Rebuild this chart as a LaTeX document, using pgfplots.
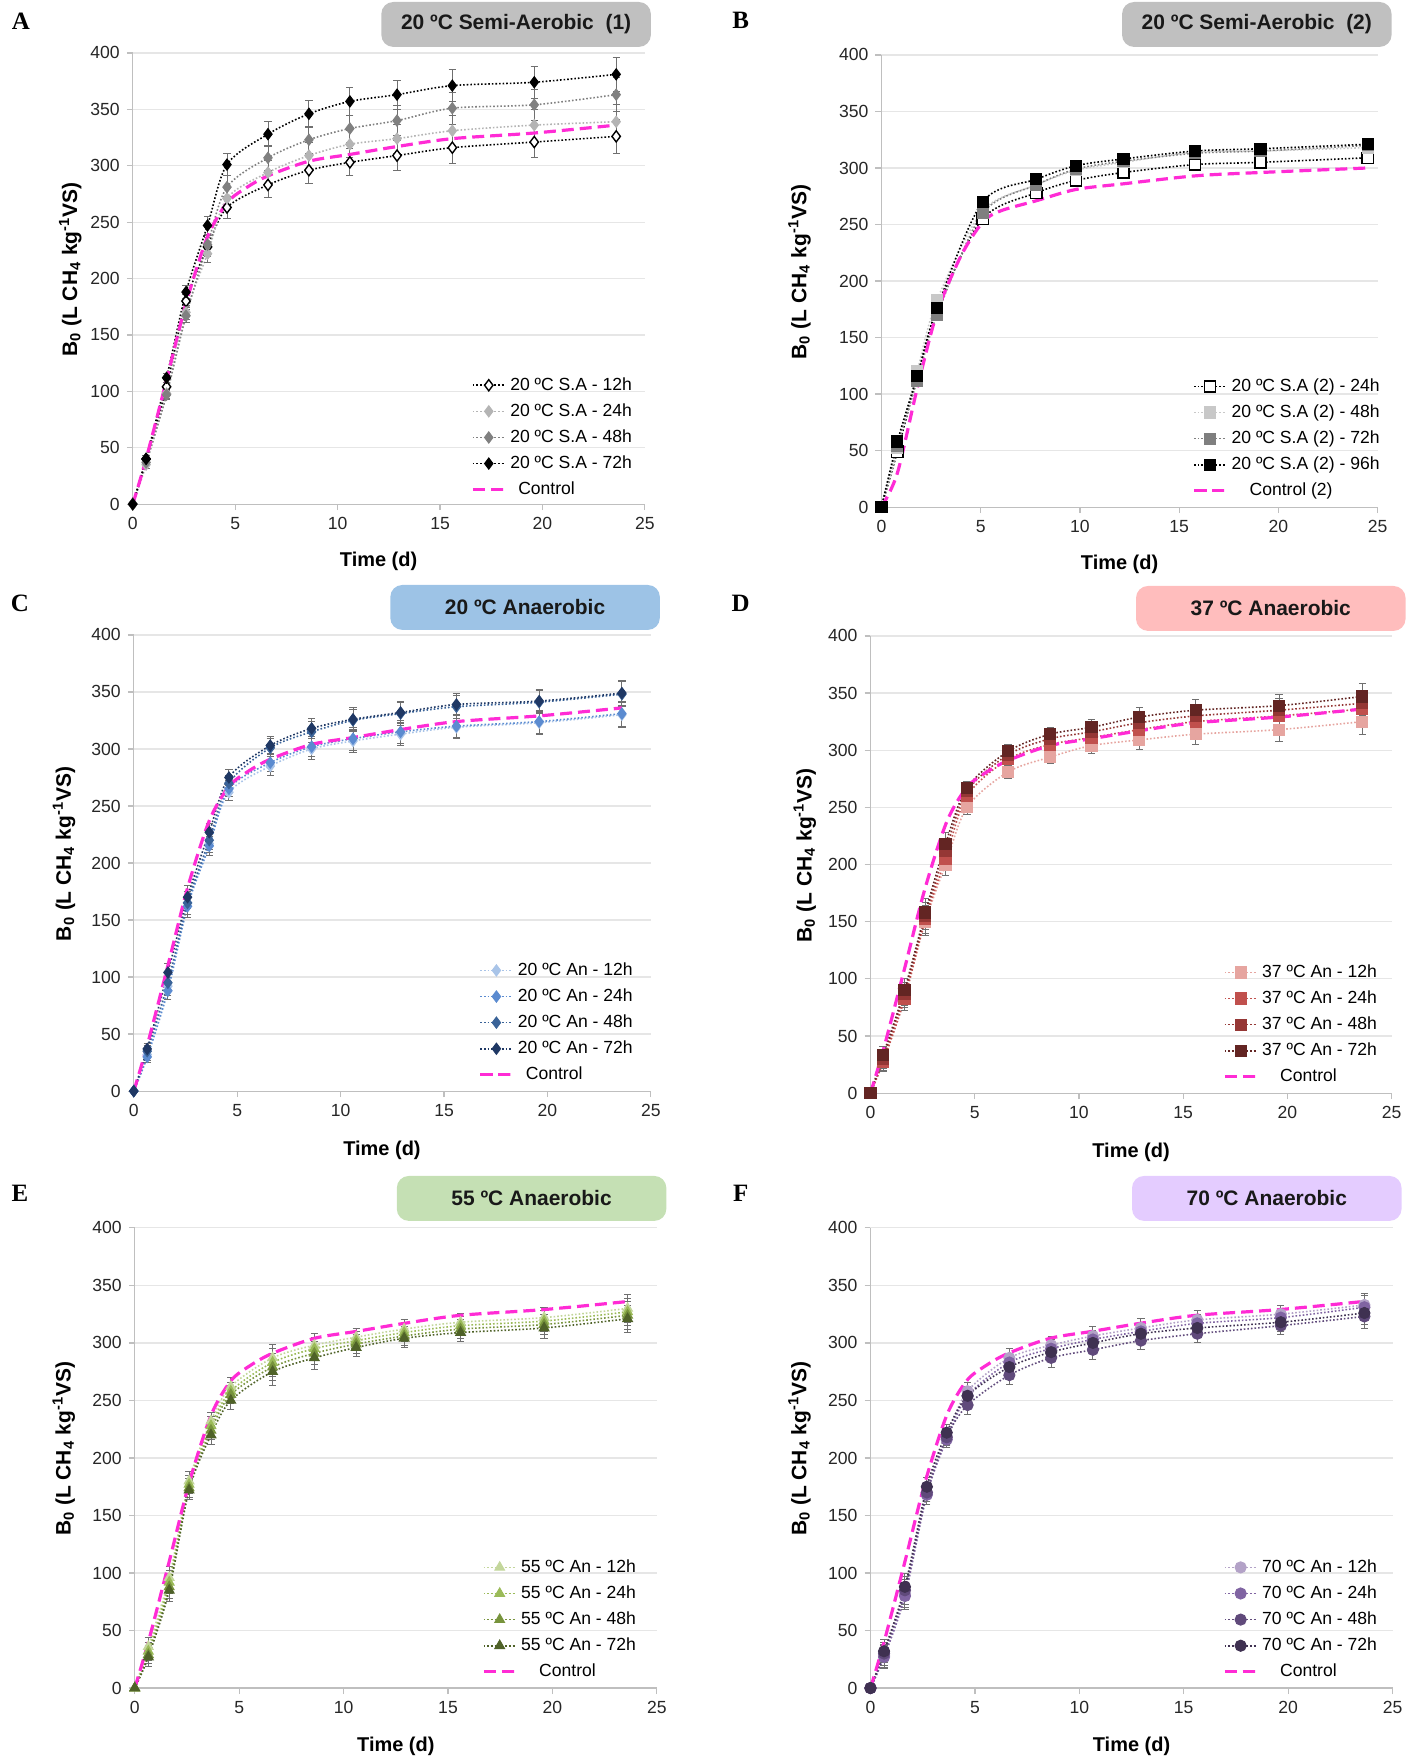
\documentclass[border=0pt]{standalone}
\usepackage{pgfplots}
\pgfplotsset{compat=1.18}
\usepackage{pgfplotstable}
\usepackage{fontspec}
\setmainfont{Liberation Sans}
\newfontfamily\serifb{Liberation Serif}

\definecolor{magc}{HTML}{FF2BD5}
\definecolor{axgray}{HTML}{BFBFBF}
\definecolor{grgray}{HTML}{E6E6E6}
\definecolor{errgray}{HTML}{6F6F6F}
% A
\definecolor{aL}{HTML}{B4B4B4}
\definecolor{aM}{HTML}{808080}
% B
\definecolor{bL}{HTML}{C8C8C8}
\definecolor{bM}{HTML}{7F7F7F}
% C
\definecolor{c1}{HTML}{A9C4E8}
\definecolor{c2}{HTML}{5B8BD0}
\definecolor{c3}{HTML}{3A6398}
\definecolor{c4}{HTML}{1F3864}
% D
\definecolor{d1}{HTML}{E6A5A0}
\definecolor{d2}{HTML}{C0504D}
\definecolor{d3}{HTML}{953735}
\definecolor{d4}{HTML}{632523}
% E
\definecolor{e1}{HTML}{C3D69B}
\definecolor{e2}{HTML}{9BBB59}
\definecolor{e3}{HTML}{77933C}
\definecolor{e4}{HTML}{4F6228}
% F
\definecolor{f1}{HTML}{B3A2C7}
\definecolor{f2}{HTML}{8064A2}
\definecolor{f3}{HTML}{604A7B}
\definecolor{f4}{HTML}{3F3151}
% boxes
\definecolor{boxA}{HTML}{C0C0C0}
\definecolor{boxC}{HTML}{9DC3E6}
\definecolor{boxD}{HTML}{FFBDBD}
\definecolor{boxE}{HTML}{C5E0B4}
\definecolor{boxF}{HTML}{E4CCFF}

\pgfplotstableread{
x     s1   s2   s3   s4   e
0     0    0    0    0    0
0.65  40   35   37   40   3
1.65  104  98   97   112  4
2.6   180  170  167  188  6
3.65  228  222  230  247  8
4.6   263  271  281  301  10
6.6   283  294  307  328  11
8.6   296  309  323  346  12
10.6  303  319  333  357  12
12.9  309  324  340  363  13
15.6  316  331  351  371  14
19.6  321  336  354  374  14
23.6  326  339  363  381  15
}\tabA

\pgfplotstableread{
x     s1   s2   s3   s4   e
0     0    0    0    0    0
0.8   49   52   54   58   2
1.8   115  120  112  116  3
2.8   175  183  170  176  3
5.1   255  262  260  270  3
7.8   278  285  285  290  3
9.8   289  298  299  302  3
12.2  296  305  306  308  3
15.8  303  314  313  315  4
19.1  305  315  315  317  4
24.5  309  318  320  321  5
}\tabB

\pgfplotstableread{
x     s1   s2   s3   s4   e
0     0    0    0    0    0
0.65  32   30   35   37   5
1.65  92   88   95   104  8
2.6   165  162  165  170  10
3.65  217  215  220  227  8
4.6   262  265  270  275  7
6.6   285  288  301  303  8
8.6   300  302  315  318  9
10.6  307  309  325  326  10
12.9  313  315  331  332  10
15.6  319  320  337  339  10
19.6  323  324  341  342  10
23.6  330  331  348  349  11
}\tabC

\pgfplotstableread{
x     s1   s2   s3   s4   e
0     0    0    0    0    0
0.6   28   27   30   33   8
1.63  85   82   87   90   10
2.63  150  152  155  158  12
3.6   200  205  212  218  10
4.63  250  260  264  267  6
6.6   281  292  296  299  6
8.62  294  305  310  314  6
10.6  304  311  316  320  7
12.9  309  318  324  329  8
15.6  314  325  330  335  9
19.6  318  330  335  339  10
23.6  325  336  341  347  11
}\tabD

\pgfplotstableread{
x     s1   s2   s3   s4   e
0     0    0    0    0    0
0.65  36   32   29   27   8
1.65  96   92   88   85   10
2.6   180  177  174  172  8
3.65  232  228  224  220  8
4.6   262  258  255  250  8
6.6   287  283  279  275  12
8.6   298  295  291  287  10
10.6  305  302  299  296  8
12.9  312  309  306  304  8
15.6  318  315  312  309  8
19.6  322  319  316  313  9
23.6  330  327  324  321  12
}\tabE

\pgfplotstableread{
x     s1   s2   s3   s4   e
0     0    0    0    0    0
0.65  28   27   30   32   10
1.65  82   80   85   88   12
2.7   170  168  170  175  8
3.65  219  216  218  222  7
4.65  258  254  246  254  8
6.65  287  283  272  279  8
8.65  298  295  287  292  8
10.65 306  303  294  300  8
12.95 313  310  302  308  8
15.65 320  317  308  313  8
19.65 325  322  315  318  8
23.65 333  331  323  326  10
}\tabF

\pgfplotstableread{
x     y
0     0
0.65  40
1.65  110
2.6   178
3.65  237
4.6   267
5.5   280
6.6   291
8.6   304
10.6  310
12.9  317
15.6  324
19.6  329
23.6  336
}\tabCtl

\pgfplotstableread{
x     y
0     0
0.8   30
1.8   105
2.8   172
4     222
5.1   252
6     262
7.8   271
9.8   281
12.2  286
15.8  293
19.1  296
24.5  300
}\tabCtlB

\pgfplotsset{
  panel/.style={
    scale only axis, clip=false,
    xmin=0, xmax=25, ymin=0, ymax=400,
    xtick={0,5,...,25}, ytick={0,50,...,400},
    axis lines*=left, axis line style={draw=axgray, line width=0.6pt, -},
    ymajorgrids, grid style={draw=grgray, line width=0.6pt},
    tick align=outside, major tick length=3pt,
    tick style={draw=axgray, line width=0.6pt},
    ticklabel style={font=\fontsize{8.8}{10}\selectfont, text=black!85},
    /pgf/number format/assume math mode=true,
    xlabel={\textbf{Time (d)}},
    xlabel style={font=\fontsize{10}{12}\selectfont, anchor=center},
    ylabel={\textbf{B\textsubscript{0} (L CH\textsubscript{4} kg\textsuperscript{-1}VS)}},
    ylabel style={font=\fontsize{10.5}{12}\selectfont, anchor=center, rotate=0},
    legend style={draw=none, fill=none, anchor=south east,
      font=\fontsize{8.8}{10.5}\selectfont, row sep=1.2pt},
    legend cell align=left,
    legend image code/.code={\draw[mark repeat=2,mark phase=2] plot coordinates {(0cm,0cm)(0.28cm,0cm)(0.56cm,0cm)};},
  },
  ser/.style 2 args={draw=#1, line width=0.8pt, densely dotted, smooth, mark=#2, mark size=2.8pt,
     mark options={solid, fill=#1, draw=#1, line width=0.5pt}},
  sero/.style={draw=black, line width=0.8pt, densely dotted, smooth, mark=#1, mark size=2.8pt,
     mark options={solid, fill=white, draw=black, line width=0.7pt}},
  eb/.style={error bars/.cd, y dir=both, y explicit,
     error bar style={solid, draw=errgray, line width=0.45pt},
     error mark options={rotate=90, draw=errgray, solid, mark size=1.8pt, line width=0.45pt}},
  ctl/.style={draw=magc, line width=1.6pt, dash pattern=on 6pt off 3pt, smooth, mark=none},
}

\begin{document}
\begin{tikzpicture}
\path (0,0) rectangle (711.5pt,-881pt);

% ---------------- A
\begin{axis}[panel, at={(66.5pt,-252.5pt)}, anchor=south west, width=256.5pt, height=226pt,
  xlabel style={at={(axis description cs:0.48,-0.126)}},
  ylabel style={at={(axis description cs:-0.122,0.52)}},
  legend style={at={(0.995,-0.004)}}]
\addplot[sero=diamond*, eb] table[x=x,y=s1,y error=e] {\tabA};
\addlegendentry{20 ºC S.A - 12h}
\addplot[ser={aL}{diamond*}, eb] table[x=x,y=s2,y error=e] {\tabA};
\addlegendentry{20 ºC S.A - 24h}
\addplot[ser={aM}{diamond*}, eb] table[x=x,y=s3,y error=e] {\tabA};
\addlegendentry{20 ºC S.A - 48h}
\addplot[ser={black}{diamond*}, eb] table[x=x,y=s4,y error=e] {\tabA};
\addlegendentry{20 ºC S.A - 72h}
\addplot[ctl] table[x=x,y=y] {\tabCtl};
\addlegendentry{\hspace{4pt}Control}
\end{axis}

% ---------------- B
\begin{axis}[panel, at={(441.5pt,-254pt)}, anchor=south west, width=248.5pt, height=226.5pt,
  xlabel style={at={(axis description cs:0.48,-0.126)}},
  ylabel style={at={(axis description cs:-0.165,0.52)}},
  legend style={at={(1.025,0.0)}}]
\addplot[sero=square*, eb] table[x=x,y=s1,y error=e] {\tabB};
\addlegendentry{20 ºC S.A (2) - 24h}
\addplot[ser={bL}{square*}, eb] table[x=x,y=s2,y error=e] {\tabB};
\addlegendentry{20 ºC S.A (2) - 48h}
\addplot[ser={bM}{square*}, eb] table[x=x,y=s3,y error=e] {\tabB};
\addlegendentry{20 ºC S.A (2) - 72h}
\addplot[ser={black}{square*}, eb] table[x=x,y=s4,y error=e] {\tabB};
\addlegendentry{20 ºC S.A (2) - 96h}
\addplot[ctl] table[x=x,y=y] {\tabCtlB};
\addlegendentry{\hspace{9pt}Control (2)}
\end{axis}

% ---------------- C
\begin{axis}[panel, at={(67pt,-546.5pt)}, anchor=south west, width=259pt, height=228.5pt,
  xlabel style={at={(axis description cs:0.48,-0.13)}},
  ylabel style={at={(axis description cs:-0.135,0.52)}},
  legend style={at={(0.985,0.0)}}]
\addplot[ser={c1}{diamond*}, eb] table[x=x,y=s1,y error=e] {\tabC};
\addlegendentry{20 ºC An - 12h}
\addplot[ser={c2}{diamond*}, eb] table[x=x,y=s2,y error=e] {\tabC};
\addlegendentry{20 ºC An - 24h}
\addplot[ser={c3}{diamond*}, eb] table[x=x,y=s3,y error=e] {\tabC};
\addlegendentry{20 ºC An - 48h}
\addplot[ser={c4}{diamond*}, eb] table[x=x,y=s4,y error=e] {\tabC};
\addlegendentry{20 ºC An - 72h}
\addplot[ctl] table[x=x,y=y] {\tabCtl};
\addlegendentry{\hspace{4pt}Control}
\end{axis}

% ---------------- D
\begin{axis}[panel, at={(436pt,-547.5pt)}, anchor=south west, width=261pt, height=229pt,
  xlabel style={at={(axis description cs:0.5,-0.13)}},
  ylabel style={at={(axis description cs:-0.126,0.52)}},
  legend style={at={(0.992,0.0)}}]
\addplot[ser={d1}{square*}, eb] table[x=x,y=s1,y error=e] {\tabD};
\addlegendentry{37 ºC An - 12h}
\addplot[ser={d2}{square*}, eb] table[x=x,y=s2,y error=e] {\tabD};
\addlegendentry{37 ºC An - 24h}
\addplot[ser={d3}{square*}, eb] table[x=x,y=s3,y error=e] {\tabD};
\addlegendentry{37 ºC An - 48h}
\addplot[ser={d4}{square*}, eb] table[x=x,y=s4,y error=e] {\tabD};
\addlegendentry{37 ºC An - 72h}
\addplot[ctl] table[x=x,y=y] {\tabCtl};
\addlegendentry{\hspace{9pt}Control}
\end{axis}

% ---------------- E
\begin{axis}[panel, at={(67.5pt,-845.5pt)}, anchor=south west, width=261.5pt, height=230.5pt,
  xlabel style={at={(axis description cs:0.5,-0.126)}},
  ylabel style={at={(axis description cs:-0.136,0.52)}},
  legend style={at={(0.98,0.0)}}]
\addplot[ser={e1}{triangle*}, eb] table[x=x,y=s1,y error=e] {\tabE};
\addlegendentry{55 ºC An - 12h}
\addplot[ser={e2}{triangle*}, eb] table[x=x,y=s2,y error=e] {\tabE};
\addlegendentry{55 ºC An - 24h}
\addplot[ser={e3}{triangle*}, eb] table[x=x,y=s3,y error=e] {\tabE};
\addlegendentry{55 ºC An - 48h}
\addplot[ser={e4}{triangle*}, eb] table[x=x,y=s4,y error=e] {\tabE};
\addlegendentry{55 ºC An - 72h}
\addplot[ctl] table[x=x,y=y] {\tabCtl};
\addlegendentry{\hspace{9pt}Control}
\end{axis}

% ---------------- F
\begin{axis}[panel, at={(436pt,-845.5pt)}, anchor=south west, width=261.5pt, height=230.5pt,
  xlabel style={at={(axis description cs:0.5,-0.126)}},
  ylabel style={at={(axis description cs:-0.136,0.52)}},
  legend style={at={(0.99,0.0)}}]
\addplot[ser={f1}{*}, eb] table[x=x,y=s1,y error=e] {\tabF};
\addlegendentry{70 ºC An - 12h}
\addplot[ser={f2}{*}, eb] table[x=x,y=s2,y error=e] {\tabF};
\addlegendentry{70 ºC An - 24h}
\addplot[ser={f3}{*}, eb] table[x=x,y=s3,y error=e] {\tabF};
\addlegendentry{70 ºC An - 48h}
\addplot[ser={f4}{*}, eb] table[x=x,y=s4,y error=e] {\tabF};
\addlegendentry{70 ºC An - 72h}
\addplot[ctl] table[x=x,y=y] {\tabCtl};
\addlegendentry{\hspace{9pt}Control}
\end{axis}

% ---------------- title boxes
\tikzset{tbox/.style={rounded corners=6pt, minimum width=135pt, minimum height=22.5pt,
  inner sep=0pt, font=\fontsize{10.5}{12}\selectfont\bfseries, text=black!90}}
\node[tbox, fill=boxA] at (258.5pt,-12.25pt) {20 ºC Semi-Aerobic\ \ (1)};
\node[tbox, fill=boxA] at (629.5pt,-12.25pt) {20 ºC Semi-Aerobic\ \ (2)};
\node[tbox, fill=boxC] at (263pt,-304.25pt) {20 ºC Anaerobic};
\node[tbox, fill=boxD] at (636.5pt,-304.75pt) {37 ºC Anaerobic};
\node[tbox, fill=boxE] at (266.25pt,-600.25pt) {55 ºC Anaerobic};
\node[tbox, fill=boxF] at (634.5pt,-600.25pt) {70 ºC Anaerobic};

% ---------------- panel letters
\tikzset{plet/.style={font=\serifb\fontsize{12.5}{14}\selectfont\bfseries, inner sep=0pt}}
\node[plet] at (10.5pt,-10.5pt) {A};
\node[plet] at (371pt,-10pt) {B};
\node[plet] at (10pt,-302pt) {C};
\node[plet] at (371pt,-302pt) {D};
\node[plet] at (10pt,-597.5pt) {E};
\node[plet] at (371pt,-597.5pt) {F};
\end{tikzpicture}
\end{document}
